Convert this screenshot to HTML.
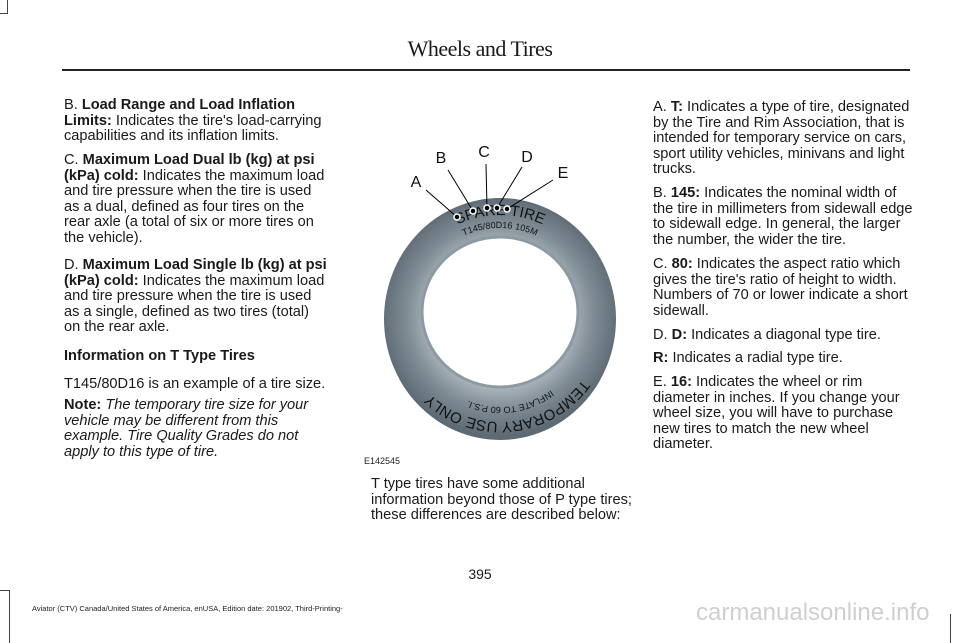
<!DOCTYPE html>
<html><head><meta charset="utf-8"><style>
body{margin:0;background:#fff;}
#p{position:relative;width:960px;height:643px;overflow:hidden;font-family:"Liberation Sans",sans-serif;color:#1a1a1a;}
.col{position:absolute;font-size:14.6px;line-height:15.6px;white-space:nowrap;}
.col p{margin:0;position:absolute;left:0;}
b{font-weight:bold;}
.hd{position:absolute;top:36px;left:0;width:960px;text-align:center;font-family:"Liberation Serif",serif;font-size:22px;letter-spacing:-0.5px;}
.rule{position:absolute;left:62px;top:69px;width:848px;height:2px;background:#222;}
</style></head><body><div id="p">
<div style="position:absolute;left:0;top:0;width:7px;height:13px;border-right:1px solid #444;border-bottom:1px solid #444"></div>
<div style="position:absolute;left:9px;top:590px;width:1px;height:53px;background:#444"></div>
<div style="position:absolute;left:0;top:590px;width:10px;height:1px;background:#444"></div>
<div style="position:absolute;left:950px;top:614px;width:1px;height:29px;background:#444"></div>
<div class="hd">Wheels and Tires</div>
<div class="rule"></div>

<div class="col" style="left:64px;top:98px;width:285px">
<p style="top:0">B. <b>Load Range and Load Inflation</b><br><b>Limits:</b> Indicates the tire's load-carrying<br>capabilities and its inflation limits.</p>
<p style="top:55px">C. <b>Maximum Load Dual lb (kg) at psi</b><br><b>(kPa) cold:</b> Indicates the maximum load<br>and tire pressure when the tire is used<br>as a dual, defined as four tires on the<br>rear axle (a total of six or more tires on<br>the vehicle).</p>
<p style="top:160px">D. <b>Maximum Load Single lb (kg) at psi</b><br><b>(kPa) cold:</b> Indicates the maximum load<br>and tire pressure when the tire is used<br>as a single, defined as two tires (total)<br>on the rear axle.</p>
<p style="top:251px"><b>Information on T Type Tires</b></p>
<p style="top:279px">T145/80D16 is an example of a tire size.</p>
<p style="top:300px"><b>Note:</b> <i>The temporary tire size for your<br>vehicle may be different from this<br>example. Tire Quality Grades do not<br>apply to this type of tire.</i></p>
</div>

<svg style="position:absolute;left:360px;top:140px" width="270" height="330" viewBox="360 140 270 330">
<defs>
<radialGradient id="g" cx="500" cy="316" r="120" gradientUnits="userSpaceOnUse">
<stop offset="0.6" stop-color="#a9b3ba"/><stop offset="0.78" stop-color="#7f8c95"/><stop offset="1" stop-color="#5d6a73"/>
</radialGradient>
<path id="top" d="M 398 319 A 102 104 0 0 1 602 319"/>
<path id="top2" d="M 410 319 A 90 91 0 0 1 590 319"/>
<path id="bot" d="M 602 319 A 102 103 0 0 1 398 319"/>
<path id="bot2" d="M 586 319 A 86 88 0 0 1 414 319"/>
</defs>
<path fill-rule="evenodd" fill="url(#g)" d="M 384 319 A 116 121 0 1 0 616 319 A 116 121 0 1 0 384 319 Z M 422 312 A 78 75 0 1 1 578 312 A 78 75 0 1 1 422 312 Z"/>
<ellipse cx="500" cy="312" rx="78" ry="75" fill="#fff" stroke="#8e9aa2" stroke-width="3"/>
<text font-family="Liberation Sans" font-size="15" fill="#111"><textPath href="#top" startOffset="50%" text-anchor="middle">SPARE TIRE</textPath></text>
<text font-family="Liberation Sans" font-size="9" fill="#111"><textPath href="#top2" startOffset="50%" text-anchor="middle">T145/80D16  105M</textPath></text>
<text font-family="Liberation Sans" font-size="15" fill="#111"><textPath href="#bot" startOffset="47%" text-anchor="middle">TEMPORARY USE ONLY</textPath></text>
<text font-family="Liberation Sans" font-size="9" fill="#111"><textPath href="#bot2" startOffset="46%" text-anchor="middle">INFLATE TO 60 P.S.I.</textPath></text>
<g stroke="#000" stroke-width="1">
<line x1="426" y1="190" x2="457" y2="217"/><line x1="448" y1="170" x2="473" y2="211"/>
<line x1="486" y1="164" x2="487" y2="208"/><line x1="522" y1="167" x2="497" y2="208"/>
<line x1="553" y1="180" x2="507" y2="209"/>
</g>
<g fill="#000" stroke="#fff" stroke-width="1.5">
<circle cx="457" cy="217" r="3"/><circle cx="473" cy="211" r="3"/><circle cx="487" cy="208" r="3"/><circle cx="497" cy="208" r="3"/><circle cx="507" cy="209" r="3"/>
</g>
<g font-family="Liberation Sans" font-size="16" fill="#111" text-anchor="middle">
<text x="416" y="187">A</text><text x="441" y="163">B</text><text x="484" y="157">C</text><text x="527" y="162">D</text><text x="563" y="178">E</text>
</g>
<text x="364" y="464" font-family="Liberation Sans" font-size="9" fill="#222">E142545</text>
</svg>

<div class="col" style="left:371px;top:477px;width:270px">
<p style="top:0">T type tires have some additional<br>information beyond those of P type tires;<br>these differences are described below:</p>
</div>

<div class="col" style="left:653px;top:100px;width:280px">
<p style="top:0">A. <b>T:</b> Indicates a type of tire, designated<br>by the Tire and Rim Association, that is<br>intended for temporary service on cars,<br>sport utility vehicles, minivans and light<br>trucks.</p>
<p style="top:86px">B. <b>145:</b> Indicates the nominal width of<br>the tire in millimeters from sidewall edge<br>to sidewall edge. In general, the larger<br>the number, the wider the tire.</p>
<p style="top:157px">C. <b>80:</b> Indicates the aspect ratio which<br>gives the tire's ratio of height to width.<br>Numbers of 70 or lower indicate a short<br>sidewall.</p>
<p style="top:228px">D. <b>D:</b> Indicates a diagonal type tire.</p>
<p style="top:251px"><b>R:</b> Indicates a radial type tire.</p>
<p style="top:275px">E. <b>16:</b> Indicates the wheel or rim<br>diameter in inches. If you change your<br>wheel size, you will have to purchase<br>new tires to match the new wheel<br>diameter.</p>
</div>

<div style="position:absolute;left:0;width:960px;top:566px;text-align:center;font-size:14px">395</div>
<div style="position:absolute;left:32px;top:604px;font-size:7.5px;color:#222">Aviator (CTV) Canada/United States of America, enUSA, Edition date: 201902, Third-Printing-</div>
<div style="position:absolute;left:696px;top:599px;font-size:24px;color:#cfcfcf">carmanualsonline.info</div>
</div></body></html>
